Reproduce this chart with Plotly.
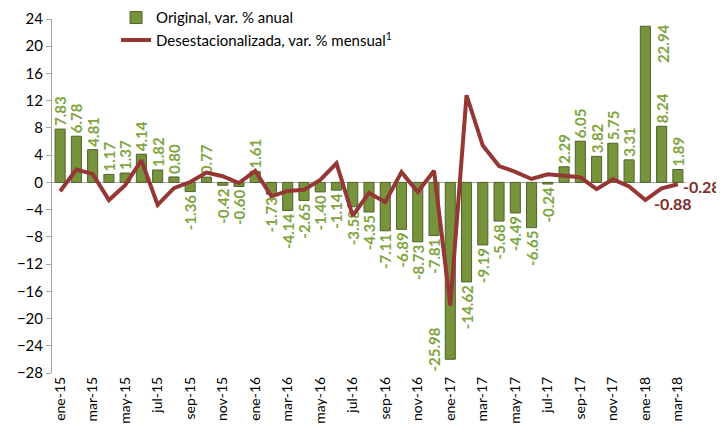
import plotly.graph_objs as go

# Months, ene-15 .. mar-18
meses = ['ene', 'feb', 'mar', 'abr', 'may', 'jun', 'jul', 'ago', 'sep', 'oct', 'nov', 'dic']
months = [f'{m}-{y}' for y in ('15', '16', '17') for m in meses] + ['ene-18', 'feb-18', 'mar-18']

# Original, var. % anual
original = [7.83, 6.78, 4.81, 1.17, 1.37, 4.14, 1.82, 0.80, -1.36, 0.77, -0.42, -0.60,
            1.61, -1.73, -4.14, -2.65, -1.40, -1.14, -3.58, -4.35, -7.11, -6.89, -8.73, -7.81,
            -25.98, -14.62, -9.19, -5.68, -4.49, -6.65, -0.24, 2.29, 6.05, 3.82, 5.75, 3.31,
            22.94, 8.24, 1.89]

# Desestacionalizada, var. % mensual
desest = [-1.3, 1.9, 1.25, -2.6, -0.4, 3.25, -3.3, -0.85, 0.05, 1.45, 0.9, -0.1,
          1.7, -2.05, -1.25, -1.1, 0.35, 2.8, -4.9, -1.55, -2.9, 1.5, -1.4, 1.7,
          -18.1, 12.8, 5.4, 2.4, 1.55, 0.5, 1.2, 0.95, 0.75, -1.0, 0.45, -0.6,
          -2.6, -0.88, -0.28]

tick_months = months[::2]
y_ticks = list(range(-28, 25, 4))

FONT = 'Lato, Arial, sans-serif'
GREEN = '#77933C'
LABEL_GREEN = '#7EA53D'
RED = '#953735'
RED_TEXT = '#7B2B28'

# the two extreme bars get their labels beside the bar instead of at its end
i_min = original.index(min(original))
i_max = original.index(max(original))
bar_text = [f'{v:.2f}' for v in original]
bar_text[i_min] = ''
bar_text[i_max] = ''

fig = go.Figure()

fig.add_trace(go.Bar(
    x=months,
    y=original,
    name='Original, var. % anual',
    marker=dict(color=GREEN, line=dict(color='#4F6228', width=1)),
    text=bar_text,
    textposition='outside',
    textangle=-90,
    textfont=dict(family=FONT, size=15, color=LABEL_GREEN, weight='bold'),
    cliponaxis=False,
    constraintext='none',
))

fig.add_trace(go.Scatter(
    x=months,
    y=desest,
    name='Desestacionalizada, var. % mensual<sup>1</sup>',
    mode='lines',
    line=dict(color=RED, width=4),
    cliponaxis=False,
))

bar_lbl = dict(family=FONT, size=15, color=LABEL_GREEN, weight='bold')
line_lbl = dict(family=FONT, size=16, color=RED_TEXT, weight='bold')
annotations = [
    # 22.94 beside its bar, top aligned
    dict(x=months[i_max], y=original[i_max], text=f'{original[i_max]:.2f}', textangle=-90,
         xanchor='left', yanchor='top', xshift=6, yshift=4, showarrow=False, font=bar_lbl),
    # -25.98 beside its bar, bottom aligned
    dict(x=months[i_min], y=original[i_min], text=f'{original[i_min]:.2f}', textangle=-90,
         xanchor='right', yanchor='bottom', xshift=-5, yshift=-14, showarrow=False, font=bar_lbl),
    # last two points of the line
    dict(x=months[-2], y=desest[-2], text=f'{desest[-2]:.2f}', xanchor='center', yanchor='top',
         xshift=11, yshift=-4, showarrow=False, font=line_lbl),
    dict(x=months[-1], y=desest[-1], text=f'{desest[-1]:.2f}', xanchor='left', yanchor='middle',
         xshift=3, yshift=-2, showarrow=False, font=line_lbl),
]

# page body adds an 8px margin, so the figure is made smaller to fit the window
fig.update_layout(
    width=708,
    height=421,
    margin=dict(l=44, r=30, t=11, b=56, autoexpand=False),
    paper_bgcolor='white',
    plot_bgcolor='white',
    font=dict(family=FONT, size=15, color='black'),
    bargap=0.38,
    showlegend=True,
    annotations=annotations,
    legend=dict(
        x=0.101, y=1.05, xanchor='left', yanchor='top',
        bgcolor='rgba(0,0,0,0)',
        font=dict(family=FONT, size=15, color='black'),
        tracegroupgap=0,
        itemwidth=30,
    ),
    xaxis=dict(
        type='category',
        range=[-0.5, len(months) - 0.5],
        tickmode='array',
        tickvals=tick_months,
        ticktext=tick_months,
        tickangle=-90,
        tickfont=dict(family=FONT, size=14),
        showgrid=False,
        showline=False,
        ticks='',
    ),
    yaxis=dict(
        range=[-28, 24],
        tickmode='array',
        tickvals=y_ticks,
        showgrid=False,
        showline=True,
        linecolor='#A6A6A6',
        linewidth=1,
        ticks='outside',
        tickcolor='#A6A6A6',
        ticklen=5,
        zeroline=True,
        zerolinecolor='#A6A6A6',
        zerolinewidth=1,
        tickfont=dict(family=FONT, size=15),
    ),
)

fig.write_html('out.html')
